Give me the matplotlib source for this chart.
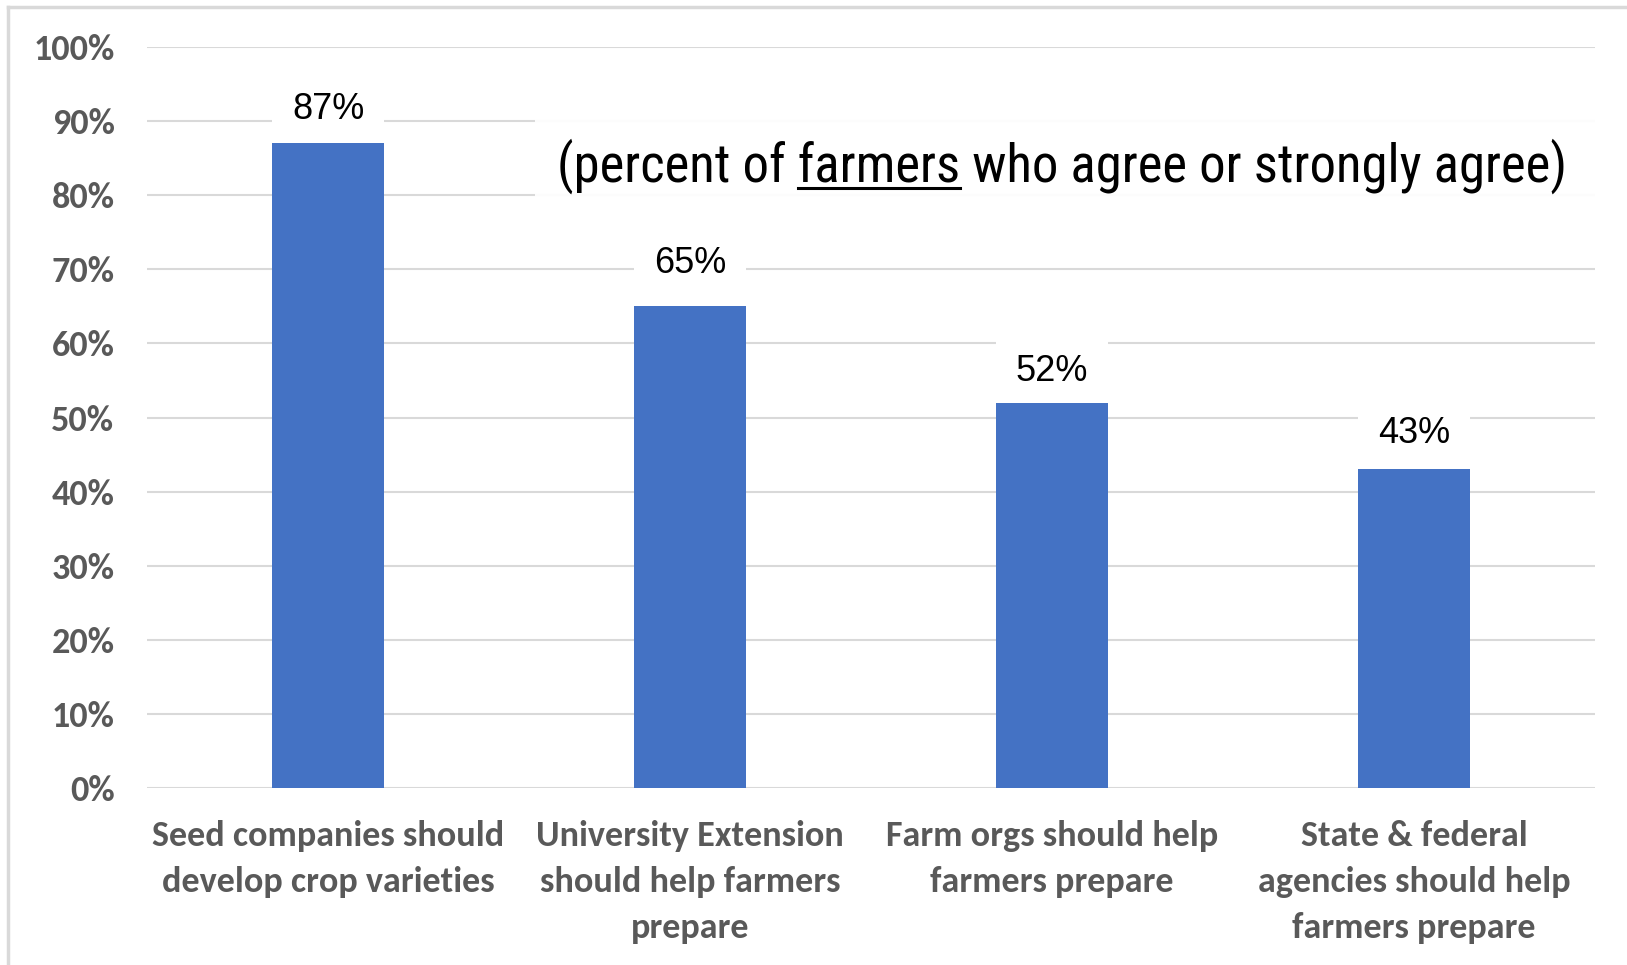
import matplotlib
matplotlib.use("Agg")
import matplotlib.pyplot as plt
from matplotlib.lines import Line2D
from matplotlib.patches import Rectangle
from matplotlib.ticker import FuncFormatter

categories = [
    "Seed companies should\ndevelop crop varieties",
    "University Extension\nshould help farmers\nprepare",
    "Farm orgs should help\nfarmers prepare",
    "State & federal\nagencies should help\nfarmers prepare",
]
values = [87, 65, 52, 43]
yticks = [0, 10, 20, 30, 40, 50, 60, 70, 80, 90, 100]

BAR_COLOR = "#4472C4"
GRID_COLOR = "#D9D9D9"
TICK_COLOR = "#595959"
TICK_FONT = ["Carlito", "Lato"]
NOTE_FONT = ["Liberation Sans Narrow", "Roboto Condensed", "Archivo Narrow", "Roboto"]

fig = plt.figure(figsize=(16.27, 9.65), dpi=100)
ax = fig.add_axes([0.0904, 0.1834, 0.8899, 0.7679])

x = list(range(len(values)))
ax.bar(x, values, width=0.31, color=BAR_COLOR, zorder=3)

ax.set_xlim(-0.5, len(values) - 0.5)
ax.set_ylim(0, 100)
ax.set_yticks(yticks)
ax.yaxis.set_major_formatter(FuncFormatter(lambda v, p: f"{v:.0f}%"))
ax.set_xticks(x)
ax.set_xticklabels(categories, fontfamily=TICK_FONT, fontweight="bold",
                   fontsize=26, color=TICK_COLOR, linespacing=1.53)
for lab in ax.get_yticklabels():
    lab.set_fontfamily(TICK_FONT)
    lab.set_fontweight("bold")
    lab.set_fontsize(26)
    lab.set_color(TICK_COLOR)

ax.tick_params(axis="x", length=0, pad=23)
ax.tick_params(axis="y", length=0, pad=23.5)
ax.grid(axis="y", color=GRID_COLOR, linewidth=1.5, zorder=0)
ax.set_axisbelow(True)
for s in ax.spines.values():
    s.set_visible(False)

# data labels with white boxes that break the gridlines
label_lift = [12, 18, 10, 13]
for xi, v, lift in zip(x, values, label_lift):
    ax.annotate(f"{v}%", xy=(xi, v), xytext=(0, lift), textcoords="offset points",
                ha="center", va="bottom", fontsize=26, fontfamily="Liberation Sans",
                color="black", zorder=2.5,
                bbox=dict(boxstyle="square,pad=0.55", fc="white", ec="none"))

# white panel behind the note, hides the 80% / 90% gridlines
fig.add_artist(Rectangle((0.3288, 0.7938), 0.68, 0.0829, transform=fig.transFigure,
                         fc="white", ec="none", alpha=0.93, zorder=1))

# note text with underlined "farmers"
note = "(percent of farmers who agree or strongly agree)"
tx, ty = 0.3423, 0.8114
fs = 38
t = fig.text(tx, ty, note, fontsize=fs, fontfamily=NOTE_FONT, color="black",
             ha="left", va="baseline", zorder=3)
fig.canvas.draw()
r = fig.canvas.get_renderer()
t1 = fig.text(tx, ty, "(percent of farmers", fontsize=fs, fontfamily=NOTE_FONT, va="baseline")
t2 = fig.text(tx, ty, "farmers", fontsize=fs, fontfamily=NOTE_FONT, va="baseline")
w1 = t1.get_window_extent(r).width
w2 = t2.get_window_extent(r).width
t1.remove()
t2.remove()
x0 = t.get_window_extent(r).x0
ux1 = (x0 + w1) / fig.bbox.width
ux0 = (x0 + w1 - w2) / fig.bbox.width
uy = ty - 6 / fig.bbox.height
fig.add_artist(Line2D([ux0, ux1], [uy, uy], color="black", linewidth=2.2,
                      transform=fig.transFigure, zorder=4))

# light border at top and left
fig.add_artist(Line2D([0.005, 1.0], [0.993, 0.993], color=GRID_COLOR, linewidth=2.5,
                      transform=fig.transFigure))
fig.add_artist(Line2D([0.005, 0.005], [0.0, 0.993], color=GRID_COLOR, linewidth=2.5,
                      transform=fig.transFigure))

fig.savefig("out.png", dpi=100, facecolor="white")
